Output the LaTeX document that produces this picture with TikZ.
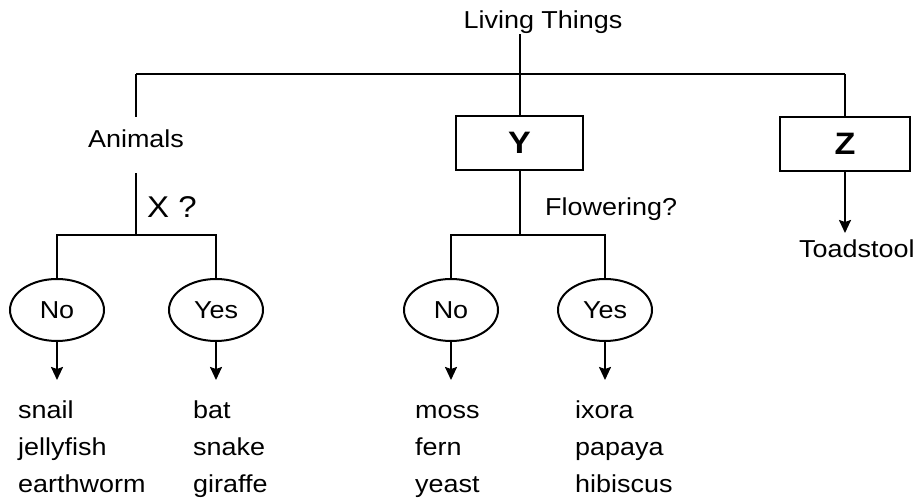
\documentclass[tikz,border=0pt]{standalone}
\usepackage{fontspec}
\setmainfont{Liberation Sans}[FakeStretch=1.1]
\usetikzlibrary{arrows.meta,shapes.geometric}
\begin{document}
\begin{tikzpicture}[x=1pt,y=-1pt,
  ln/.style={line width=2pt},
  arr/.style={line width=2pt,-{Stealth[length=13pt,width=12pt,inset=2pt]}},
  lbl/.style={inner sep=0pt,font=\fontsize{24.5}{28}\selectfont},
  word/.style={lbl,anchor=base west},
  box/.style={draw,line width=2.5pt,minimum width=127pt,minimum height=54pt,inner sep=0pt,font=\fontsize{31}{34}\selectfont\bfseries},
  ell/.style={draw,ellipse,line width=2pt,minimum width=94pt,minimum height=62pt,inner sep=0pt,font=\fontsize{24.5}{28}\selectfont},
]
\useasboundingbox (0,0) rectangle (924,502);

% top level
\node[lbl,anchor=base] (living) at (543,29) {Living Things};
\node[box] (Y) at (519.5,143) {Y};
\node[box,minimum width=130pt] (Z) at (845,144) {Z};
\node[lbl] (animals) at (136,139) {Animals};
\coordinate (lt) at (136,74);
\coordinate (rt) at (845,74);
\draw[ln] (lt) -- (rt);
\draw[ln] (Y.north |- living.south) -- (Y.north);
\draw[ln,shorten >=13pt] (lt) -- (animals.north);
\draw[ln] (rt) -- (Z.north);

% animals branch
\coordinate (ax) at (136,235);
\draw[ln,shorten <=25pt] (animals.south) -- (ax);
\node[lbl,font=\fontsize{30}{34}\selectfont,anchor=base west] (xq) at (147,218) {X ?};
\node[ell] (no1) at (57,310) {No};
\node[ell] (yes1) at (216,310) {Yes};
\draw[ln] (no1.north) -- (no1.north |- ax) -- (yes1.north |- ax) -- (yes1.north);

% plant branch
\coordinate (yb) at (519.5,235);
\draw[ln] (Y.south) -- (yb);
\node[word] (flow) at (545,216) {Flowering?};
\node[ell] (no2) at (451,310) {No};
\node[ell] (yes2) at (605,310) {Yes};
\draw[ln] (no2.north) -- (no2.north |- yb) -- (yes2.north |- yb) -- (yes2.north);

% arrows
\coordinate (a1) at (57,380);
\coordinate (a2) at (216,380);
\coordinate (a3) at (451,380);
\coordinate (a4) at (605,380);
\coordinate (az) at (845,233);
\draw[arr] (no1.south) -- (a1);
\draw[arr] (yes1.south) -- (a2);
\draw[arr] (no2.south) -- (a3);
\draw[arr] (yes2.south) -- (a4);
\draw[arr] (Z.south) -- (az);
\node[word] (toad) at (799,258) {Toadstool};

% lists
\node[word] (w11) at (18,419) {snail};
\node[word] (w12) at (18,456) {jellyfish};
\node[word] (w13) at (18,492) {earthworm};
\node[word] (w21) at (193,419) {bat};
\node[word] (w22) at (193,456) {snake};
\node[word] (w23) at (193,492) {giraffe};
\node[word] (w31) at (415,419) {moss};
\node[word] (w32) at (415,456) {fern};
\node[word] (w33) at (415,492) {yeast};
\node[word] (w41) at (575,419) {ixora};
\node[word] (w42) at (575,456) {papaya};
\node[word] (w43) at (575,492) {hibiscus};
\end{tikzpicture}
\end{document}
